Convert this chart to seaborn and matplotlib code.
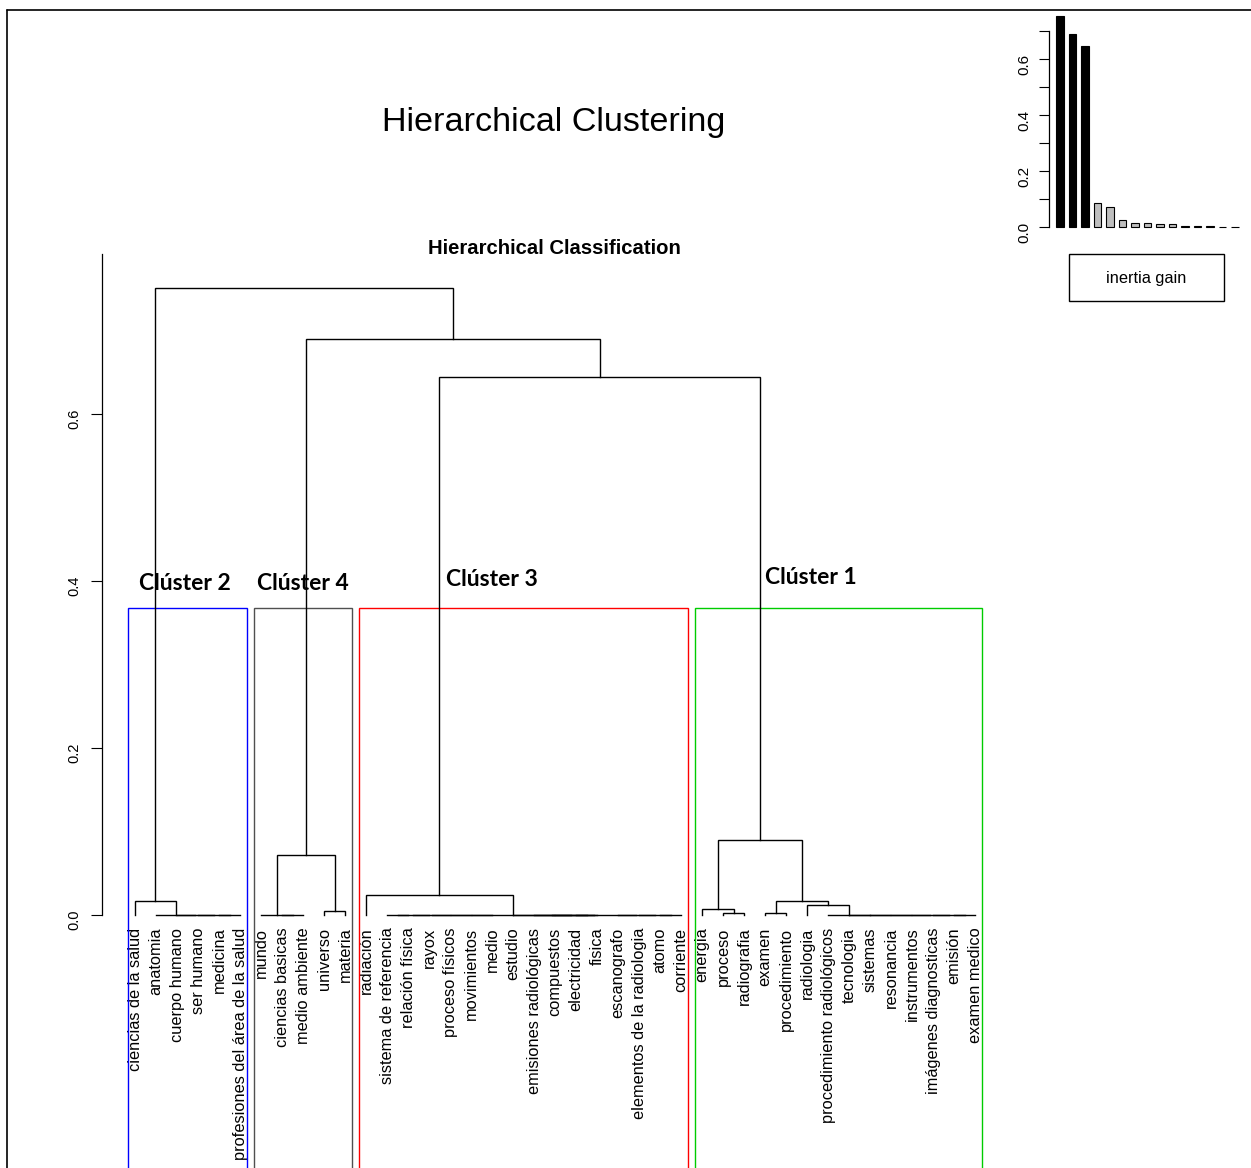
import numpy as np
import pandas as pd
import matplotlib
matplotlib.use("Agg")
import matplotlib.pyplot as plt
from matplotlib.patches import Rectangle
from matplotlib.lines import Line2D
import seaborn as sns

# leaf labels, in dendrogram order
labels = [
    "ciencias de la salud", "anatomia", "cuerpo humano", "ser humano", "medicina",
    "profesiones del área de la salud",
    "mundo", "ciencias basicas", "medio ambiente", "universo", "materia",
    "radiación", "sistema de referencia", "relación física", "rayox", "proceso físicos",
    "movimientos", "medio", "estudio", "emisiones radiológicas", "compuestos",
    "electricidad", "fisica", "escanografo", "elementos de la radiologia", "atomo",
    "corriente",
    "energia", "proceso", "radiografia", "examen", "procedimiento", "radiologia",
    "procedimiento radiológicos", "tecnologia", "sistemas", "resonancia", "instrumentos",
    "imágenes diagnosticas", "emisión", "examen medico",
]

# merge table like R hclust: negative = leaf (1-based), positive = earlier merge
merge_left = [-5, -4, -3, -2, -8, -7,
              -13, 7, 8, 9, 10, -22, -21, -20, -26, -25, -24, 14, -19, 11,
              -40, -39, -38, -37, -36, -35, -34,
              -29, -31, -10, -28, -33, 29, -1, -12, 6, 31, 35, 36, 34]
merge_right = [-6, 1, 2, 3, -9, 5,
               -14, -15, -16, -17, -18, -23, 12, 13, -27, 15, 16, 17, 18, 19,
               -41, 21, 22, 23, 24, 25, 26,
               -30, -32, -11, 28, 27, 32, 4, 20, 30, 33, 37, 38, 39]
merge_height = [0, 0, 0, 0, 0, 0,
                0, 0, 0, 0, 0, 0, 0, 0, 0, 0, 0, 0, 0, 0,
                0, 0, 0, 0, 0, 0, 0,
                0.0018, 0.0018, 0.0036, 0.0066, 0.0118, 0.016, 0.0156, 0.0234,
                0.071, 0.089, 0.645, 0.690, 0.751]

cluster_names = ["Clúster 2", "Clúster 4", "Clúster 3", "Clúster 1"]
cluster_sizes = [6, 5, 16, 14]
cluster_colors = ["#0000FF", "#505050", "#FF0000", "#00CC00"]
cluster_label_x = [1.19, 6.81, 15.81, 31.0]
cluster_label_y = [0.397, 0.397, 0.402, 0.404]

# inertia gain barplot (first 15 values)
inertia_gain = [0.754, 0.690, 0.646, 0.088, 0.071, 0.026, 0.017, 0.017,
                0.013, 0.010, 0.005, 0.005, 0.005, 0.002, 0.002]
n_clust = 4

sns.set_style("white")
plt.rcParams['font.family'] = ['Liberation Sans', 'DejaVu Sans']
plt.rcParams['text.color'] = 'black'
plt.rcParams['xtick.color'] = 'black'
plt.rcParams['ytick.color'] = 'black'
plt.rcParams['axes.labelcolor'] = 'black'

W, H = 1251, 1168
fig = plt.figure(figsize=(W / 100, H / 100), dpi=100)

# ---- dendrogram ----
ax = fig.add_axes([102 / W, (H - 914.5) / H, 888 / W, (914.5 - 254) / H])
n = len(labels)
leaf_x = np.arange(1, n + 1)
node_x, node_h = {}, {}


def child_pos(c):
    if c < 0:
        return leaf_x[-c - 1], 0.0
    return node_x[c], node_h[c]


for k, (a, b, h) in enumerate(zip(merge_left, merge_right, merge_height), start=1):
    xa, ha = child_pos(a)
    xb, hb = child_pos(b)
    ax.plot([xa, xa, xb, xb], [ha, h, h, hb], color="black", lw=1.0,
            solid_capstyle="projecting", solid_joinstyle="miter", clip_on=False)
    node_x[k] = (xa + xb) / 2
    node_h[k] = h

# cluster boxes as in rect.hclust
sorted_h = sorted(merge_height, reverse=True)
box_top = (sorted_h[n_clust - 2] + sorted_h[n_clust - 1]) / 2
ends = np.cumsum(cluster_sizes)
starts = ends - np.array(cluster_sizes) + 1
for s, e, col in zip(starts, ends, cluster_colors):
    ax.add_patch(Rectangle((s - 0.34, -0.4), (e + 0.33) - (s - 0.34), box_top + 0.4,
                           fill=False, edgecolor=col, lw=1.0, clip_on=False))
for name, lx, ly in zip(cluster_names, cluster_label_x, cluster_label_y):
    ax.text(lx, ly, name, family="Lato", fontweight="bold", fontsize=16.5,
            ha="left", va="center", color="black")

ax.set_xlim(1 - 33 / 21, 1 + 855 / 21)
ax.set_ylim(0, 0.792)
ax.set_xticks(leaf_x)
ax.set_xticklabels(labels, rotation=90, fontsize=11.8)
ax.set_yticks([0, 0.2, 0.4, 0.6])
ax.set_yticklabels(["0.0", "0.2", "0.4", "0.6"], fontsize=10.5)
ax.tick_params(axis="x", length=0, pad=9.5)
ax.tick_params(axis="y", labelrotation=90, length=8, width=0.8, pad=7, direction="out",
               left=True)
for side in ["top", "right", "bottom"]:
    ax.spines[side].set_visible(False)
ax.spines["left"].set_linewidth(0.9)
ax.spines["left"].set_color("black")
ax.set_facecolor("none")

# ---- inertia gain inset ----
ax2 = fig.add_axes([1049 / W, (H - 227.3) / H, 196 / W, 196 / H])
df = pd.DataFrame({
    "rank": [str(i) for i in range(len(inertia_gain))],
    "gain": inertia_gain,
    "grp": ["top" if i < n_clust - 1 else "rest" for i in range(len(inertia_gain))],
})
sns.barplot(data=df, x="rank", y="gain", hue="grp",
            palette={"top": "black", "rest": "#BEBEBE"}, dodge=False,
            width=0.62, edgecolor="black", linewidth=0.8, legend=False, ax=ax2)
for p in ax2.patches:
    p.set_clip_on(False)
ax2.set_xlim(-0.88, 14.8)
ax2.set_ylim(0, 0.7)
ax2.set_xticks([])
ax2.set_xlabel("")
ax2.set_ylabel("")
ax2.set_yticks(np.arange(0, 0.71, 0.1))
ax2.set_yticklabels(["0.0", "", "0.2", "", "0.4", "", "0.6", ""], fontsize=11)
ax2.tick_params(axis="y", labelrotation=90, length=7, width=0.8, pad=6,
                direction="out", left=True)
for side in ["top", "right", "bottom"]:
    ax2.spines[side].set_visible(False)
ax2.spines["left"].set_linewidth(0.9)
ax2.spines["left"].set_color("black")
ax2.spines["left"].set_bounds(0, 0.7)
ax2.set_facecolor("none")

# legend box of the inset
fig.add_artist(Rectangle((1069 / W, 1 - 301 / H), 155 / W, 47 / H, fill=False,
                         edgecolor="black", lw=1.0, transform=fig.transFigure))
fig.text(1146 / W, 1 - 278 / H, "inertia gain", ha="center", va="center", fontsize=11.8)

# titles
fig.text(554 / W, 1 - 122 / H, "Hierarchical Clustering", ha="center", va="center",
         fontsize=24.6)
fig.text(554 / W, 1 - 248 / H, "Hierarchical Classification", ha="center",
         va="center", fontsize=14.6, fontweight="bold")

# window frame (top and left edges)
fig.add_artist(Line2D([7 / W, 1], [1 - 10 / H, 1 - 10 / H], color="black", lw=1.2,
                      transform=fig.transFigure))
fig.add_artist(Line2D([7 / W, 7 / W], [0, 1 - 10 / H], color="black", lw=1.2,
                      transform=fig.transFigure))

fig.savefig("out.png", dpi=100)
